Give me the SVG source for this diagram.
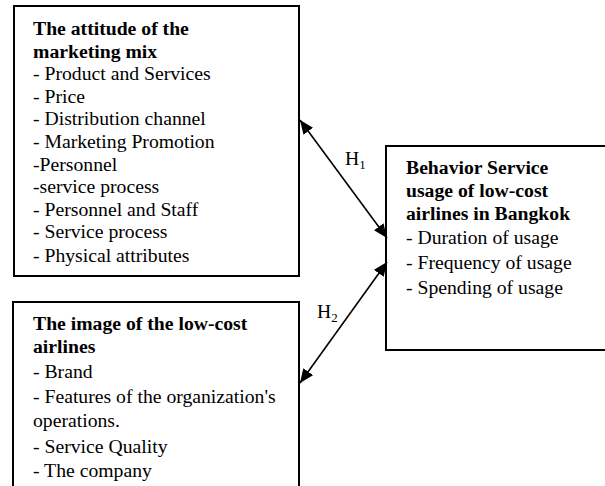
<svg xmlns="http://www.w3.org/2000/svg" width="605" height="486" viewBox="0 0 605 486">
<style>
.box{fill:#fff;stroke:#000;stroke-width:2}
text{font-family:"Liberation Serif","Times New Roman",serif;font-size:19.7px;fill:#000}
.b{font-weight:bold}
.conn{stroke:#000;stroke-width:1.6;fill:none}
.sub{font-size:13px}
</style>
<defs>
<marker id="ah" markerUnits="userSpaceOnUse" markerWidth="14" markerHeight="12" viewBox="0 0 14 12" refX="14" refY="6" orient="auto-start-reverse">
<path d="M0,0 L14,6 L0,12 z" fill="#000"/>
</marker>
</defs>
<g id="node-marketing-mix">
<rect class="box" x="14" y="6" width="285" height="270"/>
<text x="33" y="35" class="b">The attitude of the</text>
<text x="33" y="57.5" class="b">marketing mix</text>
<text x="33" y="80">- Product and Services</text>
<text x="33" y="102.5">- Price</text>
<text x="33" y="125">- Distribution channel</text>
<text x="33" y="148">- Marketing Promotion</text>
<text x="33" y="170.5">-Personnel</text>
<text x="33" y="193">-service process</text>
<text x="33" y="215.5">- Personnel and Staff</text>
<text x="33" y="238">- Service process</text>
<text x="33" y="261.5">- Physical attributes</text>
</g>
<g id="node-image">
<rect class="box" x="13" y="302" width="286" height="200"/>
<text x="33" y="330" class="b">The image of the low-cost</text>
<text x="33" y="353" class="b">airlines</text>
<text x="33" y="378">- Brand</text>
<text x="33" y="403">- Features of the organization's</text>
<text x="33" y="427">operations.</text>
<text x="33" y="453">- Service Quality</text>
<text x="33" y="476.5">- The company</text>
</g>
<g id="node-behavior">
<rect class="box" x="386" y="146" width="230" height="204"/>
<text x="406" y="173.5" class="b">Behavior Service</text>
<text x="406" y="197" class="b">usage of low-cost</text>
<text x="406" y="220" class="b">airlines in Bangkok</text>
<text x="406" y="243.5">- Duration of usage</text>
<text x="406" y="268.5">- Frequency of usage</text>
<text x="406" y="293.5">- Spending of usage</text>
</g>
<g id="connectors">
<line class="conn" x1="300" y1="120" x2="387" y2="238" marker-start="url(#ah)" marker-end="url(#ah)"/>
<line class="conn" x1="387" y1="262" x2="300" y2="383" marker-start="url(#ah)" marker-end="url(#ah)"/>
<text x="345" y="165">H<tspan class="sub" dy="4">1</tspan></text>
<text x="317" y="318">H<tspan class="sub" dy="4">2</tspan></text>
</g>
</svg>
